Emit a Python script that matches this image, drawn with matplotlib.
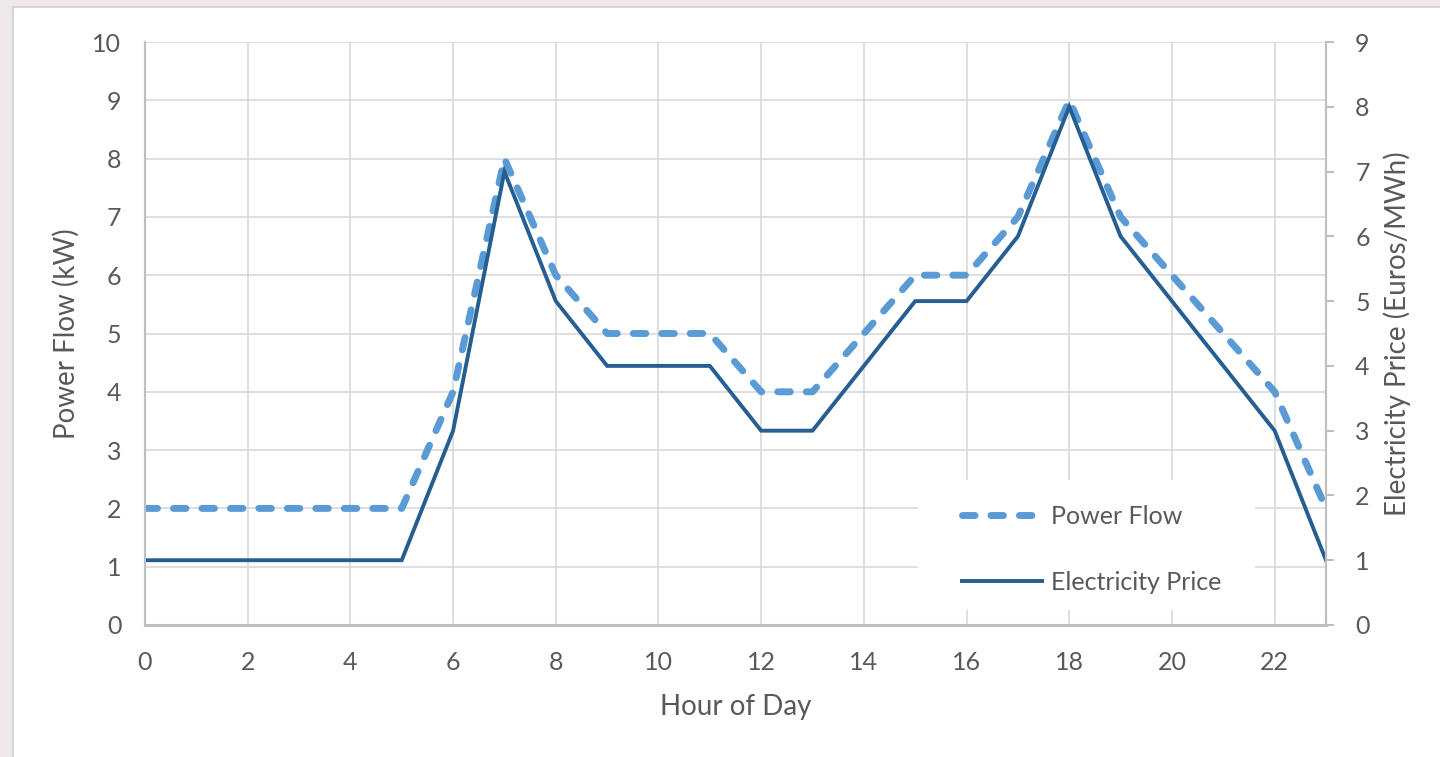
import matplotlib.pyplot as plt
from matplotlib.patches import Rectangle

plt.rcParams["font.family"] = ["Lato", "DejaVu Sans"]

# Hourly profile over one day
hours = list(range(24))
power_flow = [2, 2, 2, 2, 2, 2, 4, 8, 6, 5, 5, 5, 4, 4, 5, 6, 6, 7, 9, 7, 6, 5, 4, 2]
price = [1, 1, 1, 1, 1, 1, 3, 7, 5, 4, 4, 4, 3, 3, 4, 5, 5, 6, 8, 6, 5, 4, 3, 1]

x_ticks = list(range(0, 23, 2))
left_ticks = list(range(0, 11))
right_ticks = list(range(0, 10))

TEXT = "#595959"
GRID = "#D9D9D9"
AXIS = "#BFBFBF"
LIGHT_BLUE = "#5B9BD5"
DARK_BLUE = "#255E91"
TICK_FS = 18
LABEL_FS = 20
LEGEND_FS = 18

W, H = 1440, 757

fig = plt.figure(figsize=(W / 100, H / 100), dpi=100)
fig.patch.set_facecolor("#EEE8E8")
# white chart panel with a thin grey frame
fig.patches.append(
    Rectangle((13 / W, -0.01), 1.0, 1.01 - 7 / H, transform=fig.transFigure,
              facecolor="white", edgecolor="#D5D5D5", linewidth=1.5, zorder=-10)
)

ax = fig.add_axes([145 / W, 1 - 625 / H, (1326 - 145) / W, (625 - 42) / H])
ax2 = ax.twinx()

ax.plot(hours, power_flow, color=LIGHT_BLUE, linewidth=5.0, linestyle=(0, (1.8, 2.3)),
        dash_capstyle="round", label="Power Flow")
ax2.plot(hours, price, color=DARK_BLUE, linewidth=2.8, solid_joinstyle="miter",
         label="Electricity Price")

ax.set_xlim(0, 23)
ax.set_ylim(0, 10)
ax2.set_ylim(0, 9)
ax.set_xticks(x_ticks)
ax.set_yticks(left_ticks)
ax2.set_yticks(right_ticks)

ax.grid(True, color=GRID, linewidth=1.2)
ax.set_axisbelow(True)

for a in (ax, ax2):
    a.spines["top"].set_visible(False)
    for side in ("left", "right", "bottom"):
        a.spines[side].set_color(AXIS)
        a.spines[side].set_linewidth(1.5)
ax.spines["bottom"].set_linewidth(2.0)

ax.tick_params(axis="x", length=0, pad=19, labelsize=TICK_FS, labelcolor=TEXT)
ax.tick_params(axis="y", length=0, pad=17, labelsize=TICK_FS, labelcolor=TEXT)
ax2.tick_params(axis="y", direction="out", length=6, width=1.5, color=AXIS,
                pad=15, labelsize=TICK_FS, labelcolor=TEXT)

ax.set_xlabel("Hour of Day", fontsize=LABEL_FS, color=TEXT, labelpad=14)
ax.set_ylabel("Power Flow (kW)", fontsize=LABEL_FS, color=TEXT, labelpad=9)
ax2.set_ylabel("Electricity Price (Euros/MWh)", fontsize=LABEL_FS, color=TEXT, labelpad=10)

# legend sits on a plain white block that hides the gridlines behind it
ax2.add_patch(
    Rectangle((918 / W, 1 - 610 / H), (1255 - 918) / W, (610 - 480) / H,
              transform=fig.transFigure, facecolor="white", edgecolor="none", zorder=4)
)
handles = ax.get_lines() + ax2.get_lines()
leg = ax2.legend(handles, [h.get_label() for h in handles],
                 loc="upper left", bbox_to_anchor=(962 / W, 1 - 505 / H),
                 bbox_transform=fig.transFigure, fontsize=LEGEND_FS, labelcolor=TEXT,
                 frameon=False, borderpad=0, labelspacing=1.7, handlelength=3.2,
                 handletextpad=0.36, borderaxespad=0)
leg.set_zorder(5)

fig.savefig("out.png", dpi=100)
